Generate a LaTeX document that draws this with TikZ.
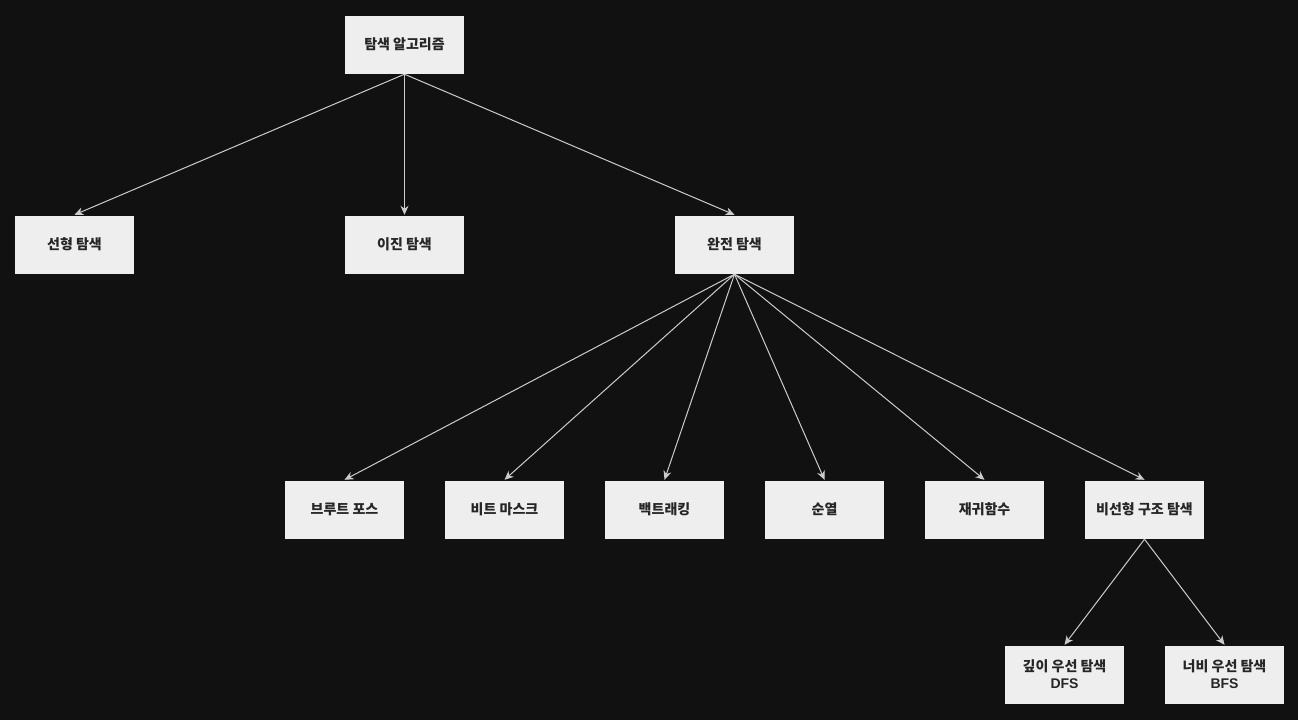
\documentclass[tikz,border=0pt]{standalone}
\usepackage{fontspec}
\setmainfont{Liberation Sans}
\newfontfamily\kr{Noto Sans CJK KR}
\usetikzlibrary{arrows.meta}
\definecolor{bgc}{HTML}{111111}
\definecolor{boxc}{HTML}{EEEEEE}
\definecolor{linec}{HTML}{CCCCCC}
\tikzset{
  box/.style={draw=bgc, fill=boxc, minimum width=120pt, minimum height=59pt, inner sep=0pt,
    font=\kr\bfseries\fontsize{14pt}{17pt}\selectfont, text=black!85, align=center},
  conn/.style={draw=linec, line width=1pt, -{Stealth[length=9pt,width=8pt]}}
}
\begin{document}
\begin{tikzpicture}[x=1pt,y=-1pt]
\fill[bgc] (0,0) rectangle (1298,720);
\useasboundingbox (0,0) rectangle (1298,720);
\node[box] (root) at (404.5,44.5) {탐색 알고리즘};
\node[box] (lin) at (74.5,244.5) {선형 탐색};
\node[box] (bin) at (404.5,244.5) {이진 탐색};
\node[box] (full) at (734.5,244.5) {완전 탐색};
\node[box] (brute) at (344.5,509.5) {브루트 포스};
\node[box] (bit) at (504.5,509.5) {비트 마스크};
\node[box] (back) at (664.5,509.5) {백트래킹};
\node[box] (perm) at (824.5,509.5) {순열};
\node[box] (rec) at (984.5,509.5) {재귀함수};
\node[box] (nonlin) at (1144.5,509.5) {비선형 구조 탐색};
\node[box] (dfs) at (1064.5,674.5) {깊이 우선 탐색\\\fontspec{Liberation Sans}\bfseries DFS};
\node[box] (bfs) at (1224.5,674.5) {너비 우선 탐색\\\fontspec{Liberation Sans}\bfseries BFS};
\foreach \c in {lin,bin,full} \draw[conn] (root.south) -- (\c.north);
\foreach \c in {brute,bit,back,perm,rec,nonlin} \draw[conn] (full.south) -- (\c.north);
\foreach \c in {dfs,bfs} \draw[conn] (nonlin.south) -- (\c.north);
\end{tikzpicture}
\end{document}
